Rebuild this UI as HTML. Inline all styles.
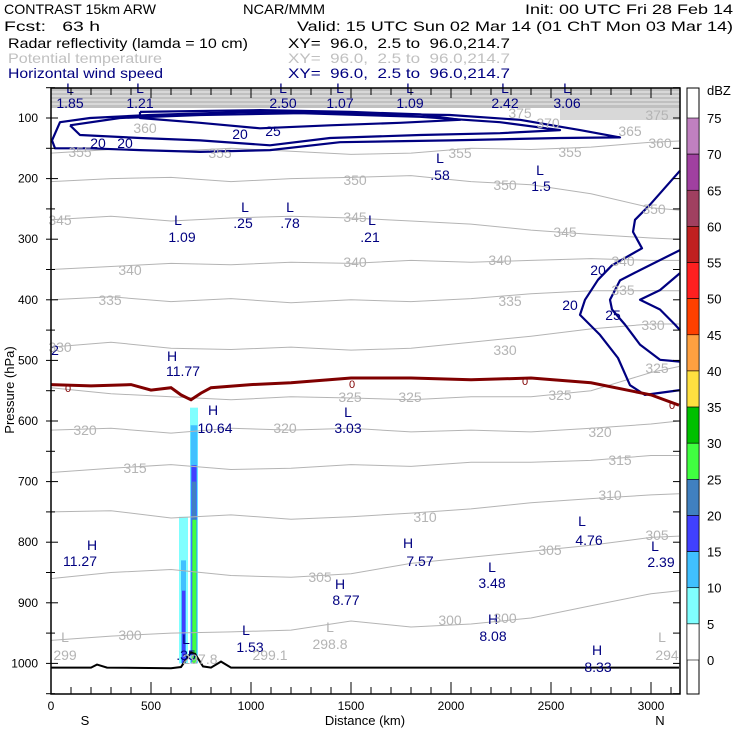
<!DOCTYPE html>
<html><head><meta charset="utf-8"><style>
body{margin:0;background:#fff}
svg{display:block;font-family:"Liberation Sans",sans-serif}
</style></head><body>
<svg id="c" width="740" height="740" viewBox="0 0 740 740" xmlns="http://www.w3.org/2000/svg">
<g font-size="14" lengthAdjust="spacingAndGlyphs">
<text x="4" y="14" textLength="152" lengthAdjust="spacingAndGlyphs">CONTRAST 15km ARW</text>
<text x="243" y="14" textLength="82" lengthAdjust="spacingAndGlyphs">NCAR/MMM</text>
<text x="525" y="14" textLength="208" lengthAdjust="spacingAndGlyphs">Init: 00 UTC Fri 28 Feb 14</text>
<text x="4" y="31" textLength="96" lengthAdjust="spacingAndGlyphs" xml:space="preserve">Fcst:   63 h</text>
<text x="297" y="31" textLength="436" lengthAdjust="spacingAndGlyphs">Valid: 15 UTC Sun 02 Mar 14 (01 ChT Mon 03 Mar 14)</text>
<text x="8" y="48" textLength="240" lengthAdjust="spacingAndGlyphs">Radar reflectivity (lamda = 10 cm)</text>
<text x="288" y="48" textLength="222" lengthAdjust="spacingAndGlyphs" xml:space="preserve">XY=  96.0,  2.5 to  96.0,214.7</text>
<text x="8" y="63" textLength="154" lengthAdjust="spacingAndGlyphs" fill="#c0c0c0">Potential temperature</text>
<text x="288" y="63" textLength="222" lengthAdjust="spacingAndGlyphs" fill="#c0c0c0" xml:space="preserve">XY=  96.0,  2.5 to  96.0,214.7</text>
<text x="8" y="78" textLength="155" lengthAdjust="spacingAndGlyphs" fill="#000080">Horizontal wind speed</text>
<text x="288" y="78" textLength="222" lengthAdjust="spacingAndGlyphs" fill="#000080" xml:space="preserve">XY=  96.0,  2.5 to  96.0,214.7</text>
</g>
<g id="plot"></g>
</svg>
<script>
const pressTicks=[100,200,300,400,500,600,700,800,900,1000];
const distTicks=[0,500,1000,1500,2000,2500,3000];
const dbzLevels=[75,70,65,60,55,50,45,40,35,30,25,20,15,10,5,0];
const dbzColors=["#c080c0","#a040a0","#a04060","#c02020","#ff2020","#ff4000","#ffa040","#ffe040","#00c000","#40ff40","#4080c0","#4040ff","#40c0ff","#80ffff","#ffffff"];
const thetaDist=[0,300,600,900,1200,1500,1800,2100,2400,2700,3000,3140];
const thetaLevels=[355,350,345,340,335,330,325,320,315,310,305,300];
const thetaP=[
[158,152,155,150,155,160,158,150,152,148,140,138],
[205,200,198,205,200,198,195,205,210,225,248,252],
[268,262,270,265,262,265,270,275,285,292,298,300],
[350,345,340,342,338,340,335,338,335,332,335,335],
[400,395,403,398,405,400,403,398,390,385,385,385],
[478,470,480,482,478,483,480,470,460,448,440,440],
[545,555,560,565,560,562,565,560,560,550,520,510],
[615,612,620,612,615,612,618,615,618,612,605,600],
[685,678,672,680,678,672,675,668,668,665,657,657],
[750,748,760,755,762,758,752,745,735,728,722,720],
[860,850,845,855,858,852,835,825,815,805,792,790],
[962,955,950,948,945,930,940,935,925,905,885,880]];
const jetOuterD=[5,45,195,495,995,1395,1995,2345,2645,2845,2545,1995,1445,1095,745,445,195,20,5];
const jetOuterP=[137,107,100,95,90,92,95,103,120,132,133,137,140,153,156,153,150,150,137];
const jetInnerD=[95,345,745,1245,1845,2245,2545,2245,1845,1395,1095,745,445,145,95];
const jetInnerP=[112,100,95,92,98,107,120,125,128,133,145,137,133,128,112];
const jet25D=[445,1045,1495,1845,2045,1745,1395,1045,745,445,445];
const jet25P=[90,87,90,94,103,108,112,117,108,100,90];
const east20D=[3145,2995,2920,2910,2955,2805,2735,2670,2645,2745,2835,2895,2970,3145];
const east20P=[187,243,268,288,315,343,367,400,425,458,496,541,557,549];
const east25D=[3145,2945,2845,2795,2805,2870,2945,3045,3145];
const east25P=[318,351,368,400,416,441,474,499,502];
const eastIn20D=[3145,3045,2945,3045,3120,3145];
const eastIn20P=[356,384,400,416,441,450];
const frzD=[0,200,400,500,600,650,700,750,800,1000,1200,1500,1800,2100,2400,2700,3000,3140];
const frzP=[540,542,540,549,545,557,565,554,545,540,537,529,529,532,529,537,557,574];
const terrD=[0,200,230,280,600,650,700,720,760,800,850,900,1000,3140];
const terrP=[1007,1007,1002,1007,1008,1006,982,984,1005,1007,997,1007,1007,1007];
const reflD0=[640,650,655,695,698,702,705,707];
const reflD1=[685,675,672,735,732,728,725,727];
const reflTop=[758,830,880,578,607,673,700,763];
const reflDbz=[5,10,15,5,10,15,20,25];

const NS="http://www.w3.org/2000/svg";
const X=d=>51+d*0.2, Y=p=>118+(p-100)*0.606;
const g=document.getElementById('plot');
function el(t,a,parent){const e=document.createElementNS(NS,t);for(const k in a)e.setAttribute(k,a[k]);(parent||g).appendChild(e);return e;}
function pts(D,P){return D.map((d,i)=>X(d).toFixed(1)+','+Y(P[i]).toFixed(1)).join(' ');}
function colorFor(v){for(let i=0;i<dbzLevels.length-1;i++){if(v>=dbzLevels[i+1]&&v<dbzLevels[i])return dbzColors[i];}return "#fff";}

let band=el('rect',{x:51,y:88,width:629,height:20,fill:'#c0c0c0'});


[92,96,100,104].forEach(yy=>{let l=el('line',{x1:51,x2:680,y1:yy,y2:yy,stroke:'#fff','stroke-width':0.8});

});
let band2=el('rect',{x:560,y:108,width:120,height:12,fill:'#d8d8d8'});



reflDbz.forEach((v,i)=>{let r=el('rect',{x:X(reflD0[i]),y:Y(reflTop[i]),width:X(reflD1[i])-X(reflD0[i]),height:Y(1000)-Y(reflTop[i]),fill:colorFor(v+0.1)});

});

thetaLevels.forEach((lv,i)=>{let l=el('polyline',{points:pts(thetaDist,thetaP[i]),fill:'none',stroke:'#b4b4b4','stroke-width':1});

});

[[jetOuterD,jetOuterP],[jetInnerD,jetInnerP],[jet25D,jet25P],[east20D,east20P],[east25D,east25P],[eastIn20D,eastIn20P]].forEach((c,i)=>{
let l=el('polyline',{points:pts(c[0],c[1]),fill:'none',stroke:'#000080','stroke-width':2.2,'stroke-linejoin':'round'});

});

let fz=el('polyline',{points:pts(frzD,frzP),fill:'none',stroke:'#800000','stroke-width':3});


let tr=el('polyline',{points:pts(terrD,terrP),fill:'none',stroke:'#000','stroke-width':2});



const navyLabels=[["L",70,93],["1.85",70,108],["L",140,93],["1.21",140,108],["L",283,93],["2.50",283,108],["L",340,93],["1.07",340,108],["L",410,93],["1.09",410,108],["L",505,93],["2.42",505,108],["L",567,93],["3.06",567,108],
["L",178,225],["1.09",182,242],["L",245,212],[".25",243,228],["L",290,212],[".78",290,228],["L",372,225],[".21",370,242],["L",440,163],[".58",440,180],["L",540,175],["1.5",541,191],
["H",172,361],["11.77",183,376],["H",213,415],["10.64",215,433],["L",348,417],["3.03",348,433],["H",92,550],["11.27",80,566],["H",408,548],["7.57",420,566],["L",492,572],["3.48",492,588],["L",582,526],["4.76",589,545],["L",655,551],["2.39",661,567],["H",340,589],["8.77",346,605],["H",493,624],["8.08",493,641],["H",597,655],["8.33",598,672],["L",186,644],[".35",186,660],["L",246,635],["1.53",250,652],
["20",98,148],["20",125,148],["20",240,139],["25",273,136],["20",570,310],["20",598,275],["25",613,320],["2",55,355]];
navyLabels.forEach(a=>{let t=el('text',{x:a[1],y:a[2],'text-anchor':'middle','font-size':14,fill:'#000080'});t.textContent=a[0];

});
const grayLabels=[["L",65,642],["299",65,660],["L",330,632],["298.8",330,649],["299.1",270,660],["297.8",200,664],["L",662,642],["294",667,660],
["355",80,157],["360",145,133],["355",220,158],["355",460,158],["355",570,157],["365",630,136],["360",660,148],["375",657,120],["370",548,128],["375",520,118],["350",355,185],["350",505,190],["350",654,214],["345",60,225],["345",355,222],["345",565,237],["340",130,275],["340",355,267],["340",500,265],["340",623,266],["335",110,305],["335",510,306],["335",623,295],["330",60,352],["330",505,355],["330",653,330],["325",350,402],["325",410,402],["325",560,400],["325",657,373],["320",85,435],["320",285,433],["320",600,437],["315",135,473],["315",620,465],["310",425,522],["310",610,500],["305",320,582],["305",550,555],["305",657,540],["300",130,640],["300",450,625],["300",505,623]];
grayLabels.forEach(a=>{let t=el('text',{x:a[1],y:a[2],'text-anchor':'middle','font-size':14,fill:'#b4b4b4'});t.textContent=a[0];

});
[[68,392],[352,388],[525,385],[672,409]].forEach(a=>{let t=el('text',{x:a[0],y:a[1],'text-anchor':'middle','font-size':11,fill:'#800000'});t.textContent='0';

});

let fr=el('rect',{x:51,y:88,width:629,height:606,fill:'none',stroke:'#000','stroke-width':1.5});


for(let p=50;p<=1050;p+=50){const yy=Y(p);const big=p%100===0;
let a=el('line',{x1:46,x2:big?58:55,y1:yy,y2:yy,stroke:'#000'});
let b=el('line',{x1:673,x2:680,y1:yy,y2:yy,stroke:'#000'});}
pressTicks.forEach(p=>{let t=el('text',{x:38,y:Y(p)+4,'text-anchor':'end','font-size':12});t.textContent=p;

});
for(let d=0;d<=3100;d+=100){const xx=X(d);const big=d%500===0;
let a=el('line',{x1:xx,x2:xx,y1:694,y2:big?682:687,stroke:'#000'});
let b=el('line',{x1:xx,x2:xx,y1:88,y2:big?98:95,stroke:'#000'});}
distTicks.forEach(d=>{let t=el('text',{x:X(d),y:710,'text-anchor':'middle','font-size':12});t.textContent=d;

});
let xt=el('text',{x:365,y:725,'text-anchor':'middle','font-size':13});xt.textContent='Distance (km)';

let sT=el('text',{x:85,y:725,'text-anchor':'middle','font-size':13});sT.textContent='S';

let nT=el('text',{x:660,y:725,'text-anchor':'middle','font-size':13});nT.textContent='N';

let yt=el('text',{x:0,y:0,'text-anchor':'middle','font-size':13,transform:'translate(14,390) rotate(-90)'});yt.textContent='Pressure (hPa)';


const cbTop=88, cbFirst=118, seg=(660-118)/15;
let cw=el('rect',{x:687,y:cbTop,width:12,height:606,fill:'#fff',stroke:'#000'});

dbzColors.forEach((c,i)=>{let r=el('rect',{x:687,y:cbFirst+seg*i,width:12,height:seg,fill:c,stroke:'#000','stroke-width':0.6});
});
dbzLevels.forEach((v,i)=>{let t=el('text',{x:707,y:cbFirst+seg*i+5,'font-size':13});t.textContent=v;
});
let du=el('text',{x:707,y:95,'font-size':13});du.textContent='dBZ';

</script>
</body></html>
